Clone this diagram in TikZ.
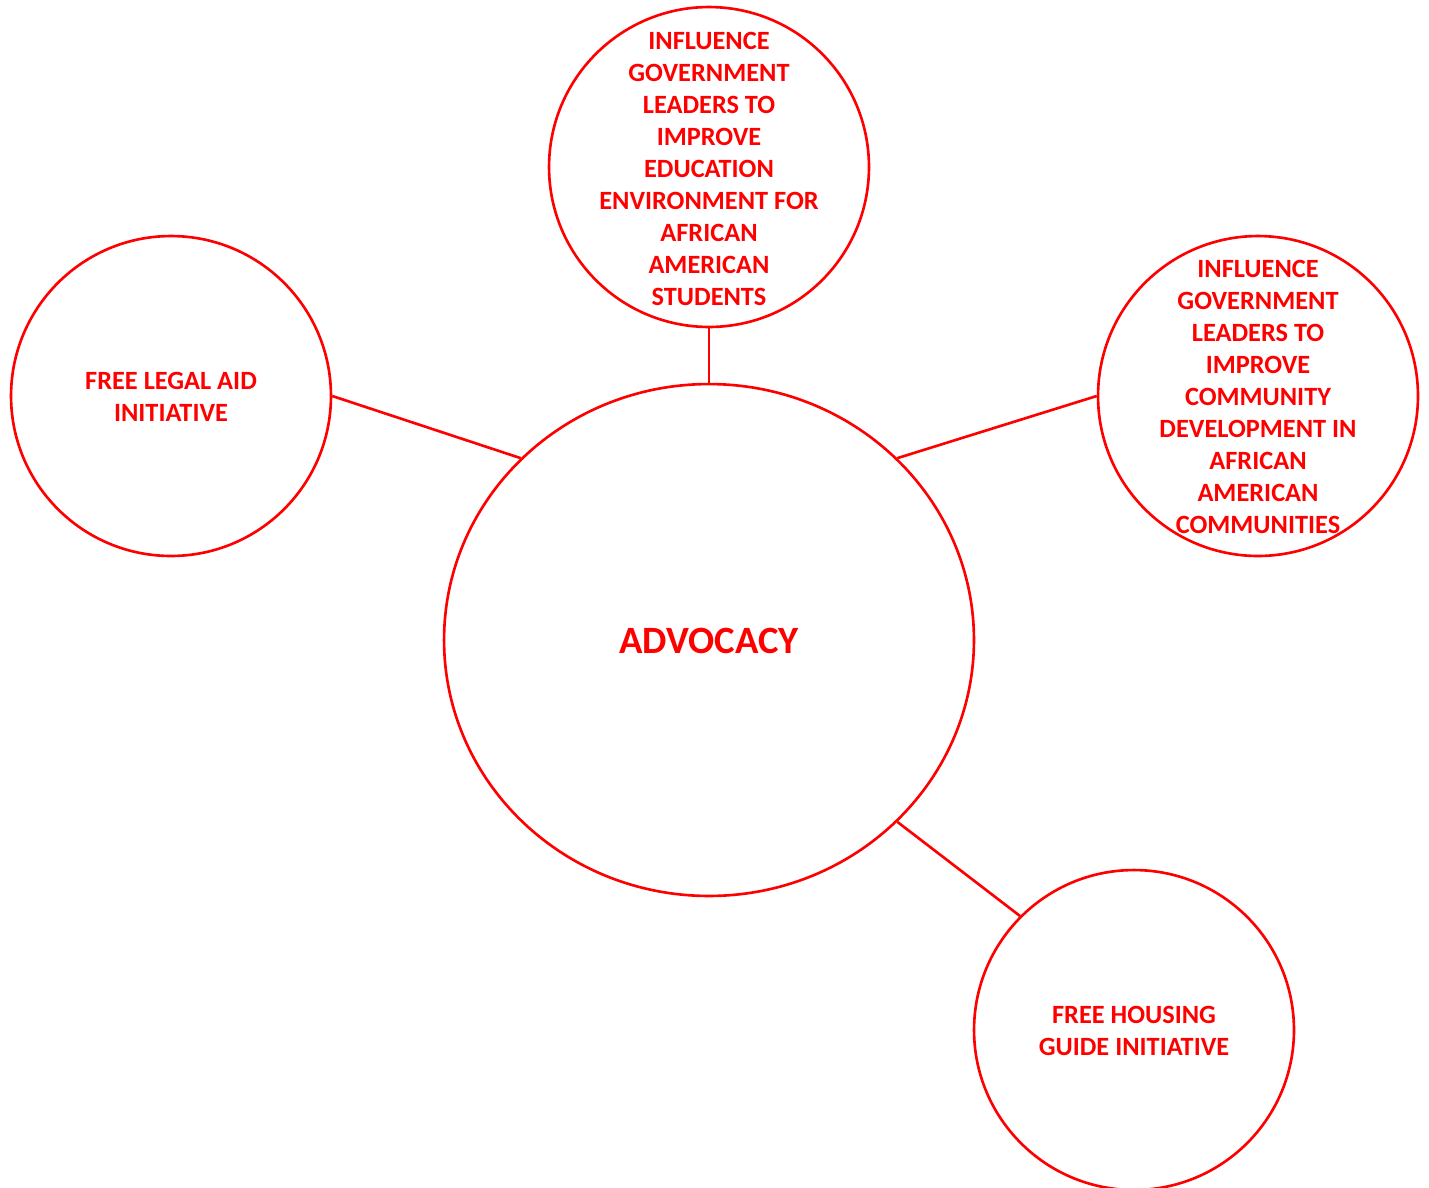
\documentclass[tikz,border=0pt]{standalone}
\usepackage{fontspec}
\setmainfont{Carlito}
\usetikzlibrary{shapes.geometric}
\definecolor{ink}{RGB}{255,0,0}
\tikzset{
  bubble/.style={draw=ink, line width=1.5pt, circle, minimum size=6.4cm, inner sep=0pt},
  hub/.style={draw=ink, line width=1.5pt, ellipse, minimum width=10.6cm, minimum height=10.24cm, inner sep=0pt},
  txt/.style={text=ink, font=\fontsize{15pt}{18.2pt}\selectfont\bfseries, align=center, inner sep=0pt},
  link/.style={draw=ink, line width=1.5pt}
}
\begin{document}
\begin{tikzpicture}[x=0.02cm, y=-0.02cm]
  \useasboundingbox (0,0) rectangle (1429,1187);
  % circles
  \node[hub] (adv) at (709,640) {};
  \node[bubble] (edu) at (709,167) {};
  \node[bubble] (legal) at (171,396) {};
  \node[bubble] (comm) at (1258,396) {};
  \node[bubble] (house) at (1134,1030) {};
  % labels
  \node[text=ink, font=\fontsize{22pt}{26pt}\selectfont\bfseries, inner sep=0pt] (advtxt) at (709,641) {ADVOCACY};
  \node[txt] (edutxt) at (709,169) {INFLUENCE\\GOVERNMENT\\LEADERS TO\\IMPROVE\\EDUCATION\\ENVIRONMENT FOR\\AFRICAN\\AMERICAN\\STUDENTS};
  \node[txt] (legaltxt) at (171,397) {FREE LEGAL AID\\INITIATIVE};
  \node[txt] (commtxt) at (1258,397) {INFLUENCE\\GOVERNMENT\\LEADERS TO\\IMPROVE\\COMMUNITY\\DEVELOPMENT IN\\AFRICAN\\AMERICAN\\COMMUNITIES};
  \node[txt] (housetxt) at (1134,1031) {FREE HOUSING\\GUIDE INITIATIVE};
  % connectors
  \path[link] (edu.south) -- (adv.north);
  \path[link] (legal.east) -- (adv.136);
  \path[link] (comm.west) -- (adv.44);
  \path[link] (adv.-44) -- (house.135);
\end{tikzpicture}
\end{document}
